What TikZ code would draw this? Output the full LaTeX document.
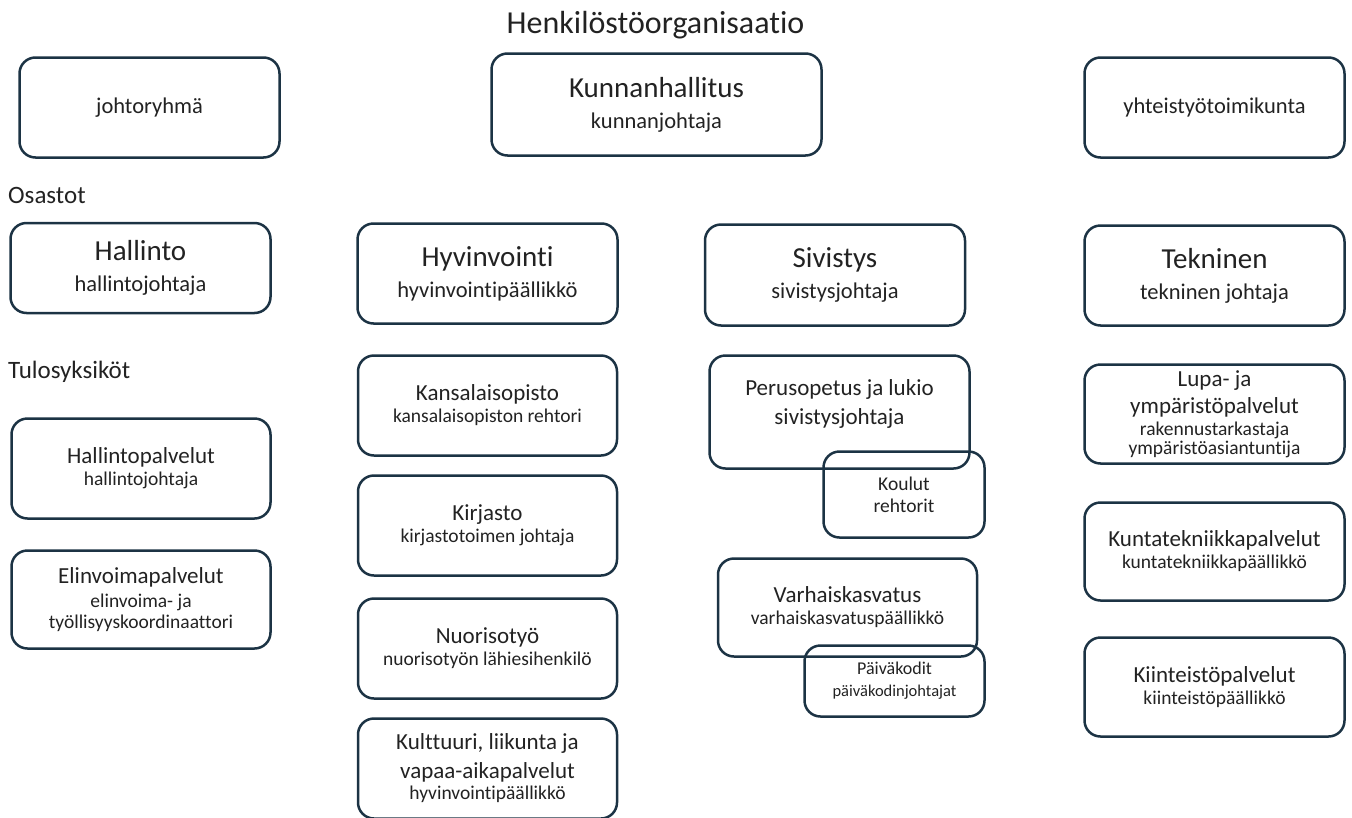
\documentclass[tikz,border=0pt]{standalone}
\usepackage{fontspec}
\setmainfont{Carlito}[Ligatures={NoCommon}, RawFeature={-liga;-calt;-dlig}]
\usetikzlibrary{positioning}
\definecolor{reuna}{HTML}{1C3344}
\definecolor{teksti}{HTML}{222222}
\newcommand{\isofontti}{\fontsize{29}{32}\selectfont}
\newcommand{\keskifontti}{\fontsize{23}{26}\selectfont}
\tikzset{
  laatikko/.style={draw=reuna, line width=2.5pt, rounded corners=16pt, align=center, text=teksti, inner sep=0pt},
  osasto/.style={laatikko, minimum width=260pt, minimum height=100pt, font=\fontsize{22.5}{31}\selectfont},
  yksikko/.style={laatikko, minimum width=259pt, minimum height=100pt, font=\fontsize{19.5}{22}\selectfont},
  otsake/.style={text=teksti, inner sep=0pt, anchor=base west, font=\fontsize{25}{30}\selectfont},
}

\begin{document}
\begin{tikzpicture}[x=1pt,y=-1pt]
\useasboundingbox (0,0) rectangle (1352,817);
\node (otsikko) [text=teksti, inner sep=0pt, anchor=base, font=\fontsize{32}{38}\selectfont] at (655.5,33) {Henkilöstöorganisaatio};
% ylin rivi
\node (johto) [osasto] at (149.5,107.5) {johtoryhmä};
\node (khall) [osasto, minimum width=330pt, minimum height=102pt] at (656.5,104.5) {{\isofontti Kunnanhallitus}\\kunnanjohtaja};
\node (yt) [osasto] at (1214.5,107.5) {yhteistyötoimikunta};
%
\node (osastot) [otsake] at (8,203) {Osastot};
\node (hallinto) [osasto, minimum height=90pt] at (140.5,268) {{\isofontti Hallinto}\\hallintojohtaja};
\node (hyvinvointi) [osasto] at (487.5,273.5) {{\isofontti Hyvinvointi}\\hyvinvointipäällikkö};
\node (sivistys) [osasto, minimum height=101pt] at (835,275) {{\isofontti Sivistys}\\sivistysjohtaja};
\node (tekninen) [osasto] at (1214.5,275.5) {{\isofontti Tekninen}\\tekninen johtaja};
%
\node (tulos) [otsake] at (8,378) {Tulosyksiköt};
\node (hpalv) [yksikko] at (141,468.5) {{\keskifontti Hallintopalvelut}\\hallintojohtaja};
\node (elinvoima) [yksikko, minimum height=98pt, font=\fontsize{19.5}{21}\selectfont] at (141,599.5) {{\keskifontti Elinvoimapalvelut}\\[3pt]elinvoima- ja\\työllisyyskoordinaattori};
%
\node (kansalais) [yksikko] at (487.5,405.5) {{\keskifontti Kansalaisopisto}\\kansalaisopiston rehtori};
\node (kirjasto) [yksikko] at (487.5,525.5) {{\keskifontti Kirjasto}\\kirjastotoimen johtaja};
\node (nuoriso) [yksikko] at (487.5,648.5) {{\keskifontti Nuorisotyö}\\nuorisotyön lähiesihenkilö};
\node (kulttuuri) [yksikko, font=\fontsize{19.5}{21}\selectfont] at (487.5,768.5) {{\keskifontti Kulttuuri, liikunta ja}\\[8pt]{\keskifontti vapaa-aikapalvelut}\\hyvinvointipäällikkö};
%
\node (perus) [yksikko, minimum width=260pt, minimum height=113pt] at (839.5,412) {};
\node (perusteksti) [text=teksti, align=center, inner sep=0pt, font=\fontsize{23}{29}\selectfont] at (839.5,404) {Perusopetus ja lukio\\sivistysjohtaja};
\node (koulut) [yksikko, minimum width=161pt, minimum height=86pt] at (904,494.5) {Koulut\\rehtorit};
\node (varhais) [yksikko, minimum height=98pt] at (847.5,607.5) {{\keskifontti Varhaiskasvatus}\\varhaiskasvatuspäällikkö};
\node (paivakodit) [yksikko, minimum width=180pt, minimum height=71pt, font=\fontsize{16.5}{22}\selectfont] at (894.5,681) {{\fontsize{18}{22}\selectfont Päiväkodit}\\päiväkodinjohtajat};
%
\node (lupa) [yksikko, minimum width=260pt, minimum height=99pt, font=\fontsize{19.5}{19}\selectfont] at (1214.5,414) {{\keskifontti Lupa- ja}\\[6pt]{\keskifontti ympäristöpalvelut}\\[3pt]rakennustarkastaja\\ympäristöasiantuntija};
\node (kuntatek) [yksikko, minimum width=260pt, minimum height=98pt] at (1214.5,551.5) {{\keskifontti Kuntatekniikkapalvelut}\\kuntatekniikkapäällikkö};
\node (kiinteisto) [yksikko, minimum width=260pt, minimum height=99pt] at (1214.5,687) {{\keskifontti Kiinteistöpalvelut}\\kiinteistöpäällikkö};
\end{tikzpicture}
\end{document}
